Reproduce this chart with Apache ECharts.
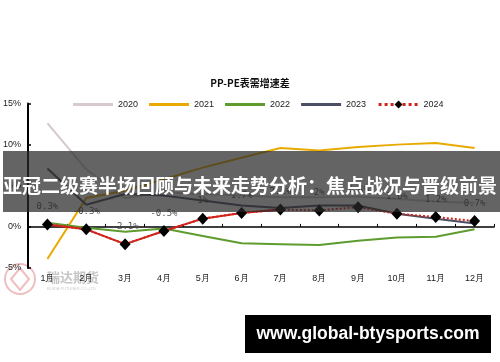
<!DOCTYPE html>
<html>
<head>
<meta charset="utf-8">
<script src="https://cdn.jsdelivr.net/npm/echarts@6/dist/echarts.min.js"></script>
<style>
html,body{margin:0;padding:0;background:#fff;}
#chart{width:500px;height:362px;}
</style>
</head>
<body>
<div id="chart"></div>
<script>
const months = ['1月','2月','3月','4月','5月','6月','7月','8月','9月','10月','11月','12月'];
const s2020 = [12.6, 7.0, 3.5, 4.2, 4.0, 3.8, 3.6, 3.6, 3.7, 3.4, 3.1, 2.9];
const s2021 = [-3.9, 3.5, 4.4, 5.8, 7.2, 8.4, 9.6, 9.3, 9.7, 10.0, 10.2, 9.6];
const s2022 = [0.5, -0.1, -0.6, -0.2, -1.1, -2.0, -2.1, -2.2, -1.7, -1.3, -1.2, -0.3];
const s2023 = [7.1, 2.7, 4.0, 3.8, 3.2, 2.6, 2.3, 2.6, 2.6, 1.6, 1.0, 0.4];
const s2024 = [0.3, -0.3, -2.1, -0.5, 1.0, 1.7, 2.1, 2.0, 2.4, 1.6, 1.2, 0.7];
const solidCount2024 = 7;
const yTicks = {min: -5, max: 15, interval: 5};
const titleText = 'PP-PE表需增速差';
const bannerText = '亚冠二级赛半场回顾与未来走势分析：焦点战况与晋级前景';
const urlText = 'www.global-btysports.com';

const s2024Solid = s2024.map((v, i) => i < solidCount2024 ? v : null);
const barIcon = 'path://M0,0h40v3h-40z';

const chart = echarts.init(document.getElementById('chart'), null, {renderer: 'canvas'});
const plain = (name, data, color) => ({
  name, type: 'line', data, xAxisIndex: 0, symbol: 'none', smooth: false,
  lineStyle: {color, width: 2}, itemStyle: {color}, z: 2
});
chart.setOption({
  animation: false,
  backgroundColor: '#fff',
  title: {
    text: titleText, left: 'center', top: 73,
    textStyle: {fontSize: 10, fontWeight: 'bold', color: '#111', fontFamily: 'Noto Sans CJK SC'}
  },
  legend: {
    top: 100, left: 73, padding: 0, itemWidth: 40, itemHeight: 10, itemGap: 11,
    symbolKeepAspect: true,
    data: [
      {name: '2020', icon: barIcon},
      {name: '2021', icon: barIcon},
      {name: '2022', icon: barIcon},
      {name: '2023', icon: barIcon},
      {name: '2024'}
    ],
    textStyle: {fontSize: 9, color: '#222'},
    lineStyle: {width: 3}
  },
  grid: {left: 28, right: 6, top: 103.5, bottom: 94, containLabel: false},
  xAxis: [{
    type: 'category', data: months, position: 'bottom', boundaryGap: true,
    axisLine: {show: false, onZero: false}, axisTick: {show: false},
    axisLabel: {fontSize: 9, color: '#222', margin: 6}
  }, {
    type: 'category', data: months, position: 'bottom', boundaryGap: true,
    axisLine: {show: true, onZero: true, lineStyle: {color: '#000', width: 1.5}},
    axisTick: {show: true, inside: true, length: 3, lineStyle: {color: '#000', width: 1}},
    axisLabel: {show: false}
  }],
  yAxis: {
    type: 'value', min: yTicks.min, max: yTicks.max, interval: yTicks.interval,
    axisLine: {show: true, lineStyle: {color: '#000', width: 2}},
    axisTick: {show: true, inside: true, length: 3, lineStyle: {color: '#000', width: 1.5}},
    axisLabel: {fontSize: 9, color: '#222', margin: 7, formatter: '{value}%'},
    splitLine: {show: false}
  },
  series: [
    plain('2020', s2020, '#d6cacd'),
    plain('2021', s2021, '#e8aa00'),
    plain('2022', s2022, '#5e9c2e'),
    plain('2023', s2023, '#4a4f63'),
    {
      name: '2024实', type: 'line', data: s2024Solid, xAxisIndex: 0, symbol: 'none',
      lineStyle: {color: '#d0241c', width: 2}, z: 3, legendHoverLink: false
    },
    {
      name: '2024', type: 'line', data: s2024, xAxisIndex: 0,
      symbol: 'diamond', symbolSize: [11, 12],
      itemStyle: {color: '#000'},
      lineStyle: {color: '#d0241c', width: 2, type: 'dotted'},
      label: {show: true, position: 'top', distance: 7, fontSize: 9, color: '#555',
        fontFamily: '"DejaVu Sans Mono", monospace',
        formatter: p => p.value + '%'},
      z: 4
    }
  ],
  graphic: [
    {
      type: 'group', left: 4, top: 263, silent: true, z: 1,
      children: [
        {type: 'circle', shape: {cx: 21, cy: 17, r: 15}, style: {fill: 'rgba(255,255,255,0)', stroke: 'rgba(220,110,110,0.45)', lineWidth: 2}},
        {type: 'polygon', shape: {points: [[21,6],[30,17],[21,28],[12,17]]}, style: {fill: 'rgba(0,0,0,0)', stroke: 'rgba(220,110,110,0.45)', lineWidth: 2}},
        {type: 'text', style: {x: 48, y: 9, text: '瑞达期货', fill: 'rgba(150,150,150,0.55)', font: 'bold 13px "Noto Sans CJK SC"'}},
        {type: 'text', style: {x: 48, y: 25, text: 'RUIDA FUTURES CO.,LTD', fill: 'rgba(150,150,150,0.5)', font: '4px sans-serif'}}
      ]
    },
    {
      type: 'rect', shape: {x: 3, y: 151, width: 497, height: 61}, z: 100,
      style: {fill: 'rgba(40,40,40,0.72)'}
    },
    {
      type: 'text', z: 101, x: 250, y: 186,
      style: {text: bannerText, fill: '#fff', font: 'bold 19px "Noto Sans CJK SC"', textAlign: 'center', textVerticalAlign: 'middle'}
    },
    {
      type: 'rect', shape: {x: 245, y: 315, width: 246, height: 38}, z: 100,
      style: {fill: '#000'}
    },
    {
      type: 'text', z: 101, x: 368, y: 334,
      style: {text: urlText, fill: '#fff', font: 'bold 17.5px "Liberation Sans", Arial, sans-serif', textAlign: 'center', textVerticalAlign: 'middle'}
    }
  ]
});
</script>
</body>
</html>
